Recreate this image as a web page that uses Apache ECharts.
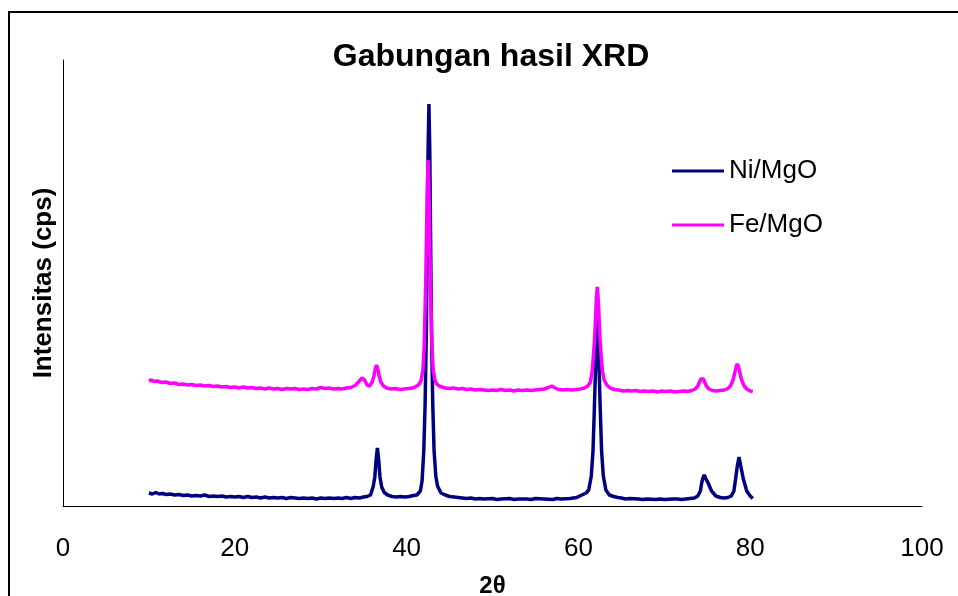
<!DOCTYPE html>
<html>
<head>
<meta charset="utf-8">
<script src="https://cdn.jsdelivr.net/npm/echarts@6/dist/echarts.min.js"></script>
<style>
html,body{margin:0;padding:0;background:#fff;}
#chart{width:958px;height:596px;}
</style>
</head>
<body>
<div id="chart"></div>
<script>
// ---- data (2θ in degrees, intensity in arbitrary cps units) ----
const titleText = 'Gabungan hasil XRD';
const seriesNames = ['Ni/MgO', 'Fe/MgO'];
const xTicks = [0, 20, 40, 60, 80, 100];

const niAngles = [10,10.4,10.8,11.2,11.6,12,12.5,13,13.5,14,14.5,15,15.5,16,16.5,17,17.5,18,18.5,19,19.5,20,20.5,21,21.5,22,22.5,23,23.5,24,24.5,25,25.5,26,26.5,27,27.5,28,28.5,29,29.5,30,30.5,31,31.5,32,32.5,33,33.5,34,34.5,35,35.4,35.8,36.1,36.3,36.45,36.6,36.75,36.9,37.1,37.4,37.8,38.3,38.8,39.3,39.8,40.3,40.8,41.2,41.6,41.8,42.0,42.15,42.3,42.4,42.5,42.6,42.7,42.8,42.9,43.05,43.2,43.4,43.6,44.0,44.5,45,45.5,46,46.5,47,47.5,48,48.5,49,50,50.5,51,52,52.5,53,54,54.5,55,56,57,57.5,58,59,59.8,60.4,60.9,61.2,61.5,61.7,61.85,62.0,62.1,62.2,62.3,62.4,62.55,62.7,62.9,63.2,63.6,64.1,64.6,65,65.5,66,67,67.5,68,69,69.5,70,71,71.5,72,72.5,73,73.5,73.9,74.2,74.35,74.5,74.65,74.8,75.1,75.5,76,76.5,77,77.4,77.8,78.1,78.3,78.5,78.7,78.9,79.2,79.6,80,80.3];
const niValues = [13,12,13.5,12,12.5,11.5,12,11,11.5,10.5,11,10,10.5,10,11,9.5,10,9.5,10,9,9.5,9,9.5,8.5,9.5,8.5,9,8,9,8,8.5,8,8.5,7.5,8.5,8,7.5,8,7.5,8,7,8,7.5,8,7.5,8,7.5,8.5,7.5,8.5,8,9,9.5,11,19,29,46,58,46,29,19,13.5,11,9.5,9,9.5,9,9.5,10.5,11,15,25,55,100,175,260,355,402,355,260,175,100,55,30,20,13,11,9.5,9,8.5,8,7.5,8,7,7.5,7,7.5,6.5,7,7.5,6.5,7,7,6.5,7.5,7,6.5,7.5,7,7.5,8.5,11,13,16,30,55,95,140,170,190,170,140,95,55,30,16,11,9.5,8.5,8,7,7.5,7,6.5,7,6.5,7,6.5,7,7,6.5,7,7.5,8,10,15,23,28,31,28,23,15,10,8.5,8,8.5,10,15,27,40,49,40,27,15,10,7.5,6];

const feAngles = [10,10.3,10.6,11,11.5,12,12.5,13,13.5,14,14.5,15,15.5,16,16.5,17,17.5,18,18.5,19,19.5,20,20.5,21,21.5,22,22.5,23,23.5,24,24.5,25,25.5,26,26.5,27,27.5,28,28.5,29,29.5,30,30.5,31,31.5,32,32.5,33,33.5,34,34.4,34.8,35.1,35.4,35.7,36.0,36.2,36.35,36.5,36.65,36.8,37.0,37.3,37.7,38.2,38.7,39.2,39.7,40.2,40.7,41.1,41.5,41.7,41.9,42.05,42.2,42.3,42.4,42.5,42.6,42.7,42.8,42.95,43.1,43.3,43.5,43.9,44.5,45,45.5,46,46.5,47,47.5,48,48.5,49,49.5,50,50.5,51,51.5,52,52.5,53,53.5,54,54.5,55,55.5,56,56.5,56.9,57.3,57.7,58.2,58.7,59.2,59.7,60.2,60.7,61.1,61.4,61.6,61.75,61.9,62.0,62.1,62.2,62.3,62.4,62.5,62.65,62.8,63.0,63.3,63.7,64.2,64.7,65.2,65.7,66.2,66.7,67.2,67.7,68.2,68.7,69.2,69.7,70.2,70.7,71.2,71.7,72.2,72.7,73.2,73.6,73.9,74.1,74.25,74.4,74.55,74.7,74.9,75.2,75.6,76,76.5,77,77.4,77.7,78.0,78.2,78.35,78.5,78.65,78.8,79.0,79.3,79.6,80,80.3];
const feValues = [125,126,124.5,125,123.5,124,122.5,123,121.5,122,121,121.5,120.5,121,120,120.5,119.5,120,119,119.5,118.5,119,118,119,118,118.5,117.5,118,117,118,117,117.5,116.5,117.5,117,117.5,116.5,117,116.5,117.5,117,118.5,117.5,118,117,117.5,117,118,118.5,120.5,124,128,126,121,120,124,130,137,141,137,130,124,120,118,117,117.5,116.5,117,117.5,118,119.5,122,126,136,160,215,262,318,346,318,262,215,160,136,126,122,119.5,118,117.5,118,117,117.5,116.5,117,116,116.5,116,115.5,116,115.5,116.5,115.5,116,115,116,115.5,116,115.5,116,116.5,117,118.5,120,118,116.5,116,116.5,116,116.5,117,118,120,124,135,150,170,190,208,219,208,190,170,150,135,126,121,118,116.5,116,115,115.5,115,115.5,114.5,115,114.5,115,114,115,114.5,115,114,114.5,115,114.5,115.5,117,120,124,127,129,127,124,120,117,115.5,115,115.5,116,117.5,120,126,133,139,142,139,133,126,120,117,115,114.5];

function pairs(xs, ys){ return xs.map((x,i)=>[x, ys[i]]); }

const FONT = "'Liberation Sans', Arial, sans-serif";
const chart = echarts.init(document.getElementById('chart'), null, {renderer:'canvas'});
chart.setOption({
  animation: false,
  backgroundColor: '#ffffff',
  title: {
    text: titleText,
    left: 491, top: 41, textAlign: 'center', padding: 0,
    textStyle: {fontFamily: FONT, fontSize: 32, fontWeight: 'bold', color: '#000'}
  },
  legend: {
    orient: 'vertical',
    left: 672, top: 158, padding: 0,
    itemWidth: 52, itemHeight: 3, itemGap: 28,
    icon: 'rect',
    textStyle: {fontFamily: FONT, fontSize: 26, color: '#000'},
    data: seriesNames
  },
  grid: {left: 63, right: 36, top: 60, bottom: 90, containLabel: false, outerBoundsMode: 'none'},
  xAxis: {
    type: 'value', min: 0, max: 100, interval: 20,
    name: '2θ', nameLocation: 'middle', nameGap: 68,
    nameTextStyle: {fontFamily: FONT, fontSize: 24, fontWeight: 'bold', color: '#000'},
    axisLine: {show: true, onZero: false, lineStyle: {color: '#000', width: 1}},
    axisTick: {show: false},
    splitLine: {show: false},
    axisLabel: {
      margin: 30, fontFamily: FONT, fontSize: 26, color: '#000',
      formatter: v => (xTicks.indexOf(v) >= 0 ? String(v) : '')
    }
  },
  yAxis: {
    type: 'value', min: 0, max: 446,
    name: 'Intensitas (cps)', nameLocation: 'middle', nameGap: 6, nameRotate: 90,
    nameTextStyle: {fontFamily: FONT, fontSize: 26, fontWeight: 'bold', color: '#000'},
    axisLine: {show: true, lineStyle: {color: '#000', width: 1}},
    axisTick: {show: false},
    axisLabel: {show: false},
    splitLine: {show: false}
  },
  graphic: [{
    type: 'rect', silent: true, z: -10,
    shape: {x: 9, y: 12, width: 1200, height: 800},
    style: {fill: 'none', stroke: '#000', lineWidth: 2}
  }],
  series: [
    {
      name: seriesNames[0], type: 'line', showSymbol: false, smooth: false,
      data: pairs(niAngles, niValues),
      itemStyle: {color: '#000080'},
      lineStyle: {color: '#000080', width: 3.5}
    },
    {
      name: seriesNames[1], type: 'line', showSymbol: false, smooth: false,
      data: pairs(feAngles, feValues),
      itemStyle: {color: '#ff00ff'},
      lineStyle: {color: '#ff00ff', width: 3.5}
    }
  ]
});
</script>
</body>
</html>
